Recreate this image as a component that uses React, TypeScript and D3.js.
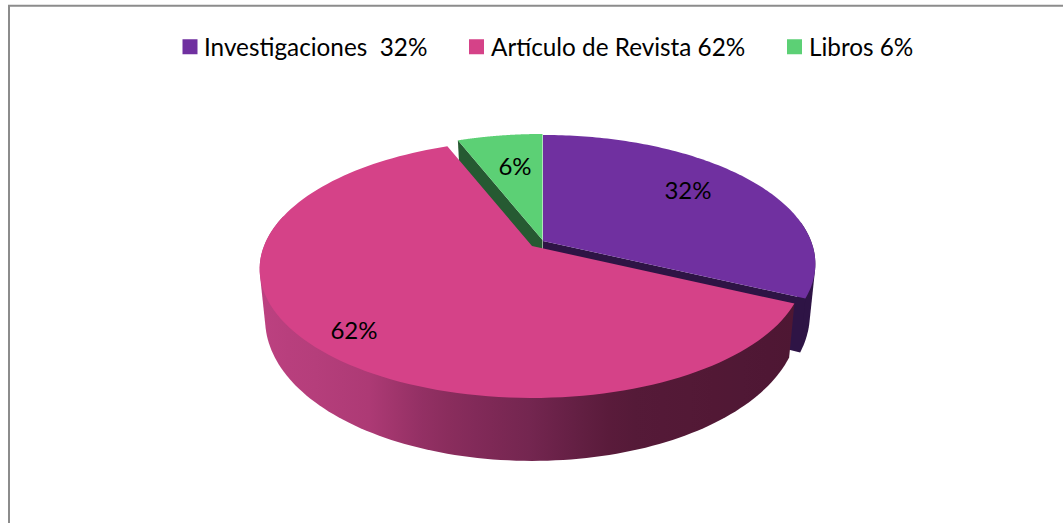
import React from "react";
import * as d3 from "d3";

const categories = ["Investigaciones  32%", "Artículo de Revista 62%", "Libros 6%"];
const sliceValues = [32, 62, 6];
const sliceLabels = ["32%", "62%", "6%"];
const topColors = ["#7030A0", "#D54288", "#5CD075"];
const cutColors = ["#2E1445", "#5A1A35", "#265A32"];

const apexes: [number, number][] = [[543, 241], [532, 246], [542.500, 240]];
const labelPos: [number, number][] = [[688, 189], [354, 329], [515, 165]];
const legendSwatchX = [182.500, 469, 787];
const legendTextX = [204, 491, 809];

const A = 268, B = 124.9, P = 0.178, SHRINK = 0.98;
const wallH = (z: number) => 47 - 19 * z;

function App() {
  const arcs = d3.pie<number>().sort(null).startAngle(0).endAngle(2 * Math.PI)(sliceValues);
  const pt = (i: number, r: number, a: number, bottom = false): [number, number] => {
    const X = r * Math.sin(a), Z = r * Math.cos(a);
    const w = 1 + P * Z;
    const s = bottom ? SHRINK : 1;
    return [apexes[i][0] + (s * A * X) / w, apexes[i][1] - (s * B * Z) / w + (bottom ? wallH(Z) : 0)];
  };
  const line = d3.line();
  const samples = (a0: number, a1: number) => d3.range(0, 121).map((k) => a0 + ((a1 - a0) * k) / 120);
  const topPath = (i: number) => {
    const a = arcs[i];
    return line([apexes[i], ...samples(a.startAngle, a.endAngle).map((t) => pt(i, 1, t))])! + "Z";
  };
  const wallPath = (i: number, a0: number, a1: number) => {
    const hull = d3.polygonHull([
      ...samples(a0, a1).map((t) => pt(i, 1, t)),
      ...samples(a0, a1).map((t) => pt(i, 1, t, true)),
    ])!;
    return line(hull)! + "Z";
  };
  const cutPath = (i: number, a: number) => {
    const apexB: [number, number] = [apexes[i][0], apexes[i][1] + wallH(0)];
    return line([apexes[i], pt(i, 1, a), pt(i, 1, a, true), apexB])! + "Z";
  };

  const pink = arcs[1];
  const shade = d3
    .scaleLinear<string>()
    .domain([0, 0.2, 0.32, 0.5, 0.67, 1])
    .range(["#BC4180", "#AD3A75", "#8E2E60", "#742650", "#561A38", "#4E1733"]);
  const stops = d3.range(0, 21).map((k) => k / 20);

  return (
    <svg
      width={1063}
      height={523}
      style={{ position: "absolute", left: 0, top: 0, fontFamily: "Lato, 'Open Sans', sans-serif" }}
    >
      <defs>
        <linearGradient id="pinkWall" gradientUnits="userSpaceOnUse" x1={262} x2={795} y1={0} y2={0}>
          {stops.map((o) => (
            <stop key={o} offset={o} stopColor={shade(o)} />
          ))}
        </linearGradient>
      </defs>
      <rect width={1063} height={523} fill="#fff" />
      <path d="M9 523V5.750H1063" fill="none" stroke="#8c8c8c" strokeWidth={2} />

      <path d={cutPath(2, arcs[2].startAngle)} fill={cutColors[2]} />
      <path d={topPath(2)} fill={topColors[2]} />

      <path d={wallPath(0, Math.PI * 0.45, arcs[0].endAngle)} fill={cutColors[0]} />
      <path d={cutPath(0, arcs[0].endAngle)} fill={cutColors[0]} />
      <path d={topPath(0)} fill={topColors[0]} />

      <path d={wallPath(1, pink.startAngle, pink.endAngle * 0.84)} fill="url(#pinkWall)" />
      <path d={topPath(1)} fill={topColors[1]} />

      {sliceLabels.map((t, i) => (
        <text key={t} x={labelPos[i][0]} y={labelPos[i][1]} textAnchor="middle" dominantBaseline="central" fontSize={24} fill="#000">
          {t}
        </text>
      ))}

      {categories.map((c, i) => (
        <g key={c}>
          <rect x={legendSwatchX[i]} y={39.250} width={15} height={15} fill={topColors[i]} />
          <text x={legendTextX[i]} y={46} dominantBaseline="central" fontSize={24.300} fill="#000" xmlSpace="preserve" style={{ whiteSpace: "pre" }}>
            {c}
          </text>
        </g>
      ))}
    </svg>
  );
}

export default App;
